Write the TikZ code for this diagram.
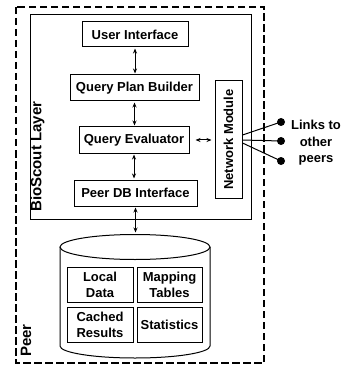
\documentclass[tikz,border=0pt]{standalone}
\usepackage{fontspec}
\setmainfont{Liberation Sans}
\usetikzlibrary{arrows.meta}
\begin{document}
\begin{tikzpicture}[x=1pt,y=-1pt, font=\fontsize{13}{16}\selectfont\bfseries,
 box/.style={draw, line width=1pt, inner sep=0pt, align=center},
 dbl/.style={{Stealth[length=5pt,width=4pt]}-{Stealth[length=5pt,width=4pt]}, line width=1pt},
 lbl/.style={font=\fontsize{15}{18}\selectfont\bfseries, rotate=90, anchor=west, inner sep=0pt},
 dot/.style={circle, fill, inner sep=0pt, minimum size=8pt}]
\useasboundingbox (0,0) rectangle (345,366);
\draw[line width=1.2pt, dash pattern=on 7.5pt off 3.5pt] (16,7) rectangle (264,363);
\draw[line width=1pt] (30,15) rectangle (251,219);
\node[box, minimum width=106pt, minimum height=25pt] (ui) at (135,34.5) {User Interface};
\node[box, minimum width=129pt, minimum height=26pt] (qpb) at (134.5,88) {Query Plan Builder};
\node[box, minimum width=110pt, minimum height=26pt] (qe) at (134,140) {Query Evaluator};
\node[box, minimum width=123pt, minimum height=26pt] (pdb) at (135.5,193) {Peer DB Interface};
\node[box, minimum width=27pt, minimum height=117pt] (nm) at (228.5,139.5) {};
\node[rotate=90, inner sep=0pt] (nmtext) at (nm.center) {Network Module};
\draw[dbl, shorten <=1pt, shorten >=1pt] (ui.south) -- (ui.south |- qpb.north);
\draw[dbl, shorten <=1pt, shorten >=1pt] (qpb.south) -- (qpb.south |- qe.north);
\draw[dbl, shorten <=1pt, shorten >=1pt] (qe.south) -- (qe.south |- pdb.north);
\draw[dbl, shorten <=6pt, shorten >=3pt] (qe.east) -- (qe.east -| nm.west);
% cylinder
\draw[line width=1pt] (60,247) -- (60,346) arc[start angle=180, end angle=360, x radius=75pt, y radius=12pt] -- (210,247);
\draw[line width=1pt] (135,247) ellipse [x radius=75pt, y radius=12.5pt];
\coordinate (dbtop) at (135,234.5);
\draw[dbl, shorten <=1pt, shorten >=2pt] (pdb.south) -- (pdb.south |- dbtop);
\node[box, minimum width=66pt, minimum height=35pt] (ld) at (100,284.5) {Local\\Data};
\node[box, minimum width=65pt, minimum height=35pt] (mt) at (169.5,284.5) {Mapping\\Tables};
\node[box, minimum width=66pt, minimum height=35pt] (cr) at (100,324.5) {Cached\\Results};
\node[box, minimum width=65pt, minimum height=35pt] (st) at (169.5,324.5) {Statistics};
% links
\node[dot] (d1) at (281,122) {};
\node[dot] (d2) at (281,141) {};
\node[dot] (d3) at (281,161) {};
\draw[line width=1pt] ([yshift=4.5pt]nm.east) -- (d1.center);
\draw[line width=1pt] ([yshift=-0.5pt]nm.east) -- (d2.center);
\draw[line width=1pt] ([yshift=-3.5pt]nm.east) -- (d3.center);
\node[align=center, font=\fontsize{13}{16.5}\selectfont\bfseries] (links) at (316,143) {Links to\\other\\peers};
\node[lbl] (bsl) at (37.5,212) {BioScout Layer};
\node[lbl] (peer) at (26,357) {Peer};
\end{tikzpicture}
\end{document}
